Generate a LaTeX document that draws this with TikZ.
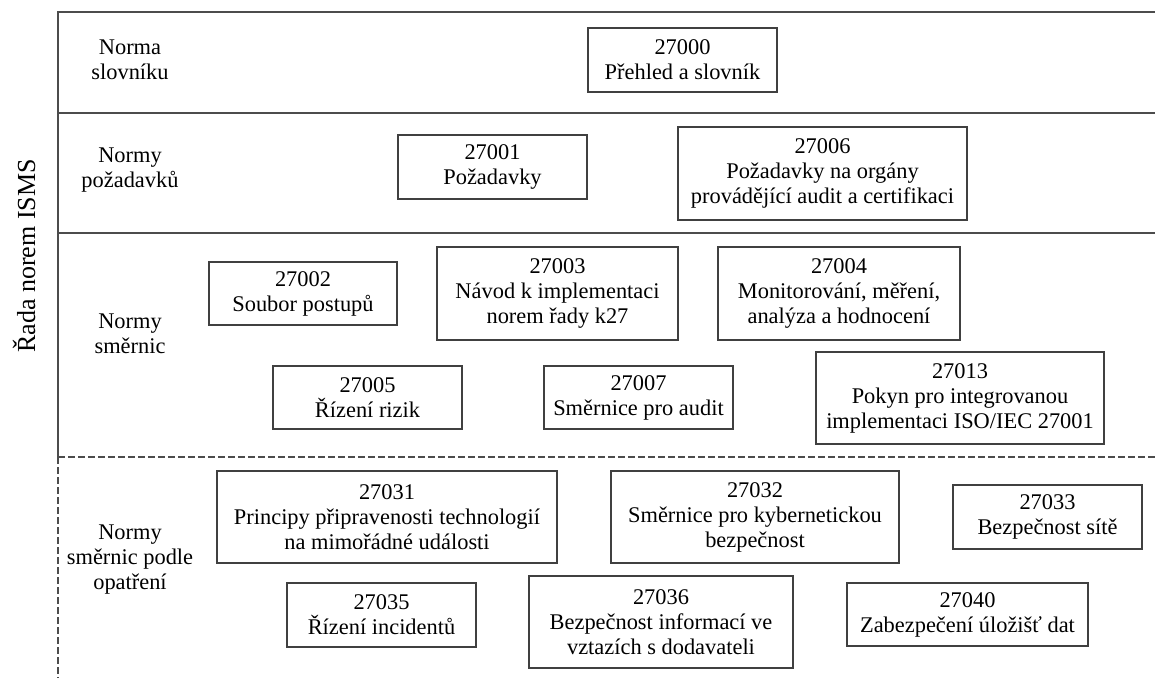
\documentclass[tikz,border=0pt]{standalone}
\usepackage{fontspec}
\setmainfont{Liberation Serif}
\usepackage{tikz}

\newcommand{\normfont}{\fontsize{11.2pt}{12.5pt}\selectfont}

\tikzset{
    normbox/.style={draw=black!75, line width=0.6pt, align=center, inner sep=0pt, font=\normfont},
    rowlabel/.style={align=center, inner sep=0pt, font=\normfont},
    bandline/.style={draw=black!70, line width=0.7pt},
    banddash/.style={bandline, dash pattern=on 3.5pt off 1.5pt}
}

\begin{document}
\begin{tikzpicture}[x=0.5pt, y=-0.5pt]

        \useasboundingbox (0,0) rectangle (1155,678);

        % Rámeček a pásy
        \coordinate (topL) at (58,12);
        \coordinate (topR) at (1155,12);
        \coordinate (cutL) at (58,457);
        \draw[bandline] (topR) -- (topL) -- (cutL);
        \draw[bandline] (58,113) -- (1155,113);
        \draw[bandline] (58,233) -- (1155,233);
        \draw[banddash] (cutL) -- (1155,457);
        \draw[banddash] (cutL) -- (58,678);

        % Svislý nadpis
        \node[rotate=90, font=\fontsize{13pt}{15pt}\selectfont] (rada) at (24,256) {Řada norem ISMS};

        % Popisky pásů
        \node[rowlabel] (slovnik) at (130,60) {Norma\\slovníku};
        \node[rowlabel] (pozadavky) at (130,170) {Normy\\požadavků};
        \node[rowlabel] (smernice) at (130,334) {Normy\\směrnic};
        \node[rowlabel] (opatreni) at (130,560) {Normy\\směrnic podle\\opatření};

        % Norma slovníku
        \node[normbox, minimum width=94.5pt, minimum height=32pt] (n27000) at (682.5,60) {27000\\Přehled a slovník};

        % Normy požadavků
        \node[normbox, minimum width=94.5pt, minimum height=32pt] (n27001) at (492.5,167) {27001\\Požadavky};
        \node[normbox, minimum width=144.5pt, minimum height=46.5pt] (n27006) at (822.5,173.5) {27006\\Požadavky na orgány\\provádějící audit a certifikaci};

        % Normy směrnic
        \node[normbox, minimum width=94pt, minimum height=31.5pt] (n27002) at (303,293.5) {27002\\Soubor postupů};
        \node[normbox, minimum width=120.5pt, minimum height=46.5pt] (n27003) at (557.5,293.5) {27003\\Návod k implementaci\\norem řady k27};
        \node[normbox, minimum width=121pt, minimum height=46.5pt] (n27004) at (839,293.5) {27004\\Monitorování, měření,\\analýza a hodnocení};
        \node[normbox, minimum width=94.5pt, minimum height=31.5pt] (n27005) at (367.5,397.5) {27005\\Řízení rizik};
        \node[normbox, minimum width=94.5pt, minimum height=31.5pt] (n27007) at (638.5,397.5) {27007\\Směrnice pro audit};
        \node[normbox, minimum width=144pt, minimum height=46pt] (n27013) at (960,398) {27013\\Pokyn pro integrovanou\\implementaci ISO/IEC 27001};

        % Normy směrnic podle opatření
        \node[normbox, minimum width=170pt, minimum height=46pt] (n27031) at (387,517) {27031\\Principy připravenosti technologií\\na mimořádné události};
        \node[normbox, minimum width=144pt, minimum height=46pt] (n27032) at (755,517) {27032\\Směrnice pro kybernetickou\\bezpečnost};
        \node[normbox, minimum width=94.5pt, minimum height=32pt] (n27033) at (1047.5,517) {27033\\Bezpečnost sítě};
        \node[normbox, minimum width=94.5pt, minimum height=32pt] (n27035) at (381.5,615) {27035\\Řízení incidentů};
        \node[normbox, minimum width=132pt, minimum height=46pt] (n27036) at (661,622) {27036\\Bezpečnost informací ve\\vztazích s dodavateli};
        \node[normbox, minimum width=120.5pt, minimum height=31.5pt] (n27040) at (967.5,614.5) {27040\\Zabezpečení úložišť dat};

\end{tikzpicture}
\end{document}
